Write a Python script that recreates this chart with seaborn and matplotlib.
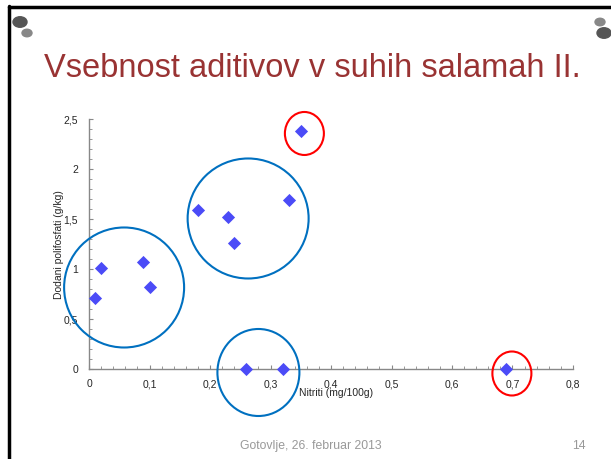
import numpy as np
import pandas as pd
import seaborn as sns
import matplotlib.pyplot as plt
from matplotlib.patches import Ellipse, Circle
from matplotlib.ticker import MultipleLocator, FuncFormatter

sns.set_style("white")
plt.rcParams["font.family"] = ["Liberation Sans", "DejaVu Sans"]

# podatki
nitriti = [0.01, 0.02, 0.09, 0.10, 0.18, 0.23, 0.24, 0.33, 0.35, 0.26, 0.32, 0.69]
polifosfati = [0.71, 1.01, 1.07, 0.82, 1.59, 1.52, 1.26, 1.69, 2.38, 0.0, 0.0, 0.0]

df = pd.DataFrame({"Nitriti": nitriti, "Polifosfati": polifosfati})

fig = plt.figure(figsize=(6.11, 4.59), dpi=100)
ax = fig.add_axes([0.1457, 0.195, 0.7921, 0.5447])

sns.scatterplot(data=df, x="Nitriti", y="Polifosfati", marker="D", s=45,
                color="#4B4BF7", edgecolor="#4B4BF7", linewidth=0, ax=ax,
                zorder=3, clip_on=False)

ax.set_xlim(0, 0.8)
ax.set_ylim(0, 2.5)
ax.xaxis.set_major_locator(MultipleLocator(0.1))
ax.xaxis.set_minor_locator(MultipleLocator(0.02))
ax.yaxis.set_major_locator(MultipleLocator(0.5))
ax.yaxis.set_minor_locator(MultipleLocator(0.1))
fmt = FuncFormatter(lambda v, p: ("%g" % round(v, 2)).replace(".", ","))
ax.xaxis.set_major_formatter(fmt)
ax.yaxis.set_major_formatter(fmt)
ax.tick_params(which="major", direction="in", length=3, color="#888888",
               labelsize=7.5, bottom=True, left=True)
ax.tick_params(axis="x", which="major", pad=7)
ax.tick_params(axis="y", which="major", pad=8)
ax.tick_params(which="minor", direction="in", length=2.5, color="#888888",
               bottom=True, left=True)
for s in ["top", "right"]:
    ax.spines[s].set_visible(False)
for s in ["left", "bottom"]:
    ax.spines[s].set_color("#888888")
    ax.spines[s].set_linewidth(1)

ax.set_xlabel("Nitriti (mg/100g)", fontsize=7.5)
ax.xaxis.set_label_coords(0.51, -0.075)
ax.set_ylabel("Dodani polifosfati (g/kg)", fontsize=7.5)
ax.yaxis.set_label_coords(-0.052, 0.5)

# oznacene skupine (center x, center y, sirina, visina v pikslih, barva)
px_x = 0.8 / 484
px_y = 2.5 / 250
skupine = [
    (0.058, 0.82, 120, 120, "#0070C0"),
    (0.263, 1.51, 121, 120, "#0070C0"),
    (0.280, -0.03, 82, 87, "#0070C0"),
    (0.356, 2.36, 39, 43, "#FF0000"),
    (0.699, -0.04, 39, 44, "#FF0000"),
]
for cx, cy, w, h, c in skupine:
    ax.add_patch(Ellipse((cx, cy), w * px_x, h * px_y, fill=False,
                         edgecolor=c, linewidth=1.5, clip_on=False, zorder=4))

# okvir prosojnice
fig.add_artist(plt.Line2D([8.5 / 611, 8.5 / 611], [0, 1 - 6 / 459],
                          color="black", linewidth=2.5))
fig.add_artist(plt.Line2D([8.5 / 611, 1], [1 - 6.5 / 459, 1 - 6.5 / 459],
                          color="black", linewidth=2.5))
for x, y, r, c in [(20, 22, 7, "#555555"), (27, 33, 5, "#888888"),
                   (600, 22, 5, "#888888"), (604, 33, 7, "#555555")]:
    fig.add_artist(Circle((x / 611, 1 - y / 459), r / 611, color=c,
                          transform=fig.transFigure))

fig.text(0.511, 1 - 77 / 459, "Vsebnost aditivov v suhih salamah II.",
         ha="center", va="baseline", fontsize=23.5, color="#993333")
fig.text(0.508, 1 - 449 / 459, "Gotovlje, 26. februar 2013", ha="center",
         va="baseline", fontsize=8.8, color="#999999")
fig.text(579 / 611, 1 - 449 / 459, "14", ha="center", va="baseline",
         fontsize=8.8, color="#999999")

fig.savefig("out.png", dpi=100)
